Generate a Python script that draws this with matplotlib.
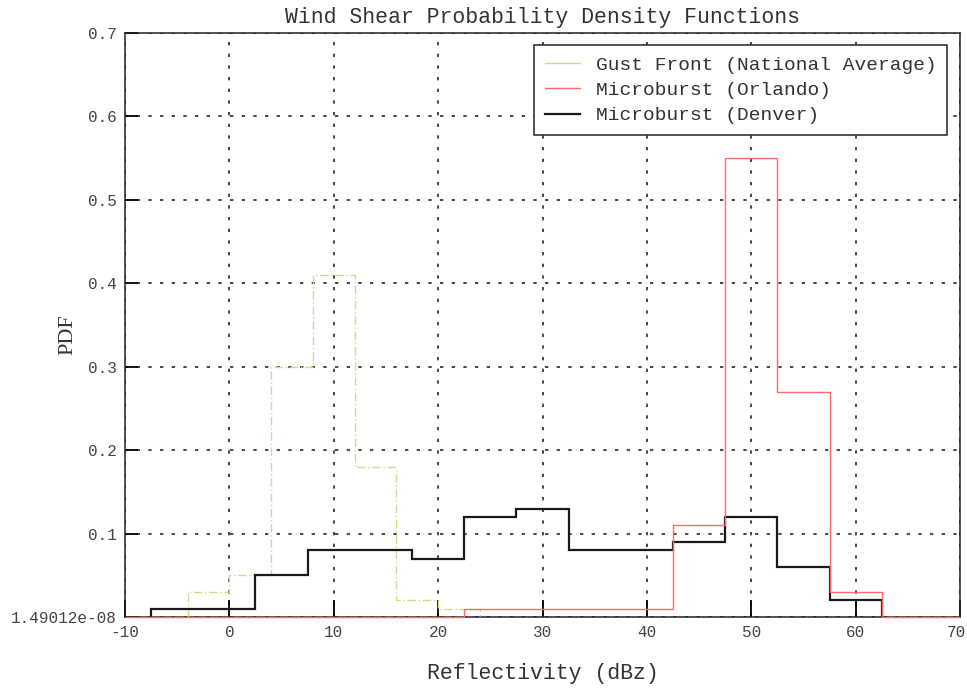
import matplotlib
matplotlib.use("Agg")
import matplotlib.pyplot as plt
from matplotlib.ticker import FuncFormatter
from matplotlib.transforms import offset_copy

plt.rcParams["axes.unicode_minus"] = False

# Bin edges (dBz) and PDF values for each distribution
gust_edges = [-4, 0, 4, 8, 12, 16, 20, 24]
gust_pdf = [0.03, 0.05, 0.30, 0.41, 0.18, 0.02, 0.01]

orlando_edges = [-10, 22.5, 42.5, 47.5, 52.5, 57.5, 62.5, 70]
orlando_pdf = [0.0, 0.01, 0.11, 0.55, 0.27, 0.03, 0.0]

denver_edges = [-7.5, 2.5, 7.5, 17.5, 22.5, 27.5, 32.5, 42.5, 47.5, 52.5, 57.5, 62.5]
denver_pdf = [0.01, 0.05, 0.08, 0.07, 0.12, 0.13, 0.08, 0.09, 0.12, 0.06, 0.02]

labels = ["Gust Front (National Average)", "Microburst (Orlando)", "Microburst (Denver)"]
x_ticks = [-10, 0, 10, 20, 30, 40, 50, 60, 70]
y_floor = 1.49012e-08
y_ticks = [y_floor, 0.1, 0.2, 0.3, 0.4, 0.5, 0.6, 0.7]

mono = "Liberation Mono"
ink = "#333333"

fig = plt.figure(figsize=(9.67, 6.89), dpi=100)
ax = fig.add_axes([125 / 967, 72 / 689, 835 / 967, 584 / 689])

g = ax.stairs(gust_pdf, gust_edges, baseline=0, color="#c8e08a", lw=1.0,
              linestyle=(0, (6, 2, 1, 2)), label=labels[0], zorder=3)
d = ax.stairs(denver_pdf, denver_edges, baseline=0, color="#1a1a1a", lw=1.6,
              label=labels[2], zorder=4)
r = ax.stairs(orlando_pdf, orlando_edges, baseline=None, color="#ff6a6a", lw=1.0,
              label=labels[1], zorder=5)
for art in (g, d, r):
    art.set_clip_on(False)

ax.set_xlim(-10, 70)
ax.set_ylim(y_floor, 0.7)
ax.set_xticks(x_ticks)
ax.set_yticks(y_ticks)
ax.yaxis.set_major_formatter(FuncFormatter(lambda v, p: "%g" % v))

ax.grid(True, color="#2a2a2a", linestyle=(0, (2, 5)), linewidth=1.2)
ax.set_axisbelow(True)

for s in ax.spines.values():
    s.set_linewidth(1.1)
    s.set_color("#222222")

ax.tick_params(axis="x", direction="in", length=12, width=1.3, pad=6,
               labelsize=11.5, top=False)
ax.tick_params(axis="y", direction="in", length=9, width=1.3, pad=6,
               labelsize=11.5, right=False)
for lab in ax.get_xticklabels() + ax.get_yticklabels():
    lab.set_fontfamily(mono)
    lab.set_color("#444444")

# keep the last x tick label inside the figure edge
last = ax.xaxis.get_major_ticks()[-1].label1
last.set_transform(offset_copy(last.get_transform(), fig=fig, x=-4, units="dots"))

ax.set_title("Wind Shear Probability Density Functions", fontfamily=mono,
             fontsize=15.5, pad=7, color=ink)
ax.set_xlabel("Reflectivity (dBz)", fontfamily=mono, fontsize=15.5,
              labelpad=16, color=ink)
ax.set_ylabel("PDF", fontfamily="Liberation Serif", fontsize=16, color=ink)
ax.yaxis.label.set_va("center")
ax.yaxis.set_label_coords(-0.068, 0.483)

leg = ax.legend(handles=[g, r, d], labels=labels, loc="upper right",
                bbox_to_anchor=(0.985, 0.979), prop={"family": mono, "size": 14},
                frameon=True, fancybox=False, framealpha=1, edgecolor="#222222",
                handlelength=1.8, handletextpad=0.85, labelspacing=0.4,
                borderpad=0.55, borderaxespad=0)
leg.get_frame().set_linewidth(1.1)
for h in leg.get_lines():
    h.set_linestyle("-")
for t in leg.get_texts():
    t.set_color(ink)

fig.savefig("out.png", dpi=100)
